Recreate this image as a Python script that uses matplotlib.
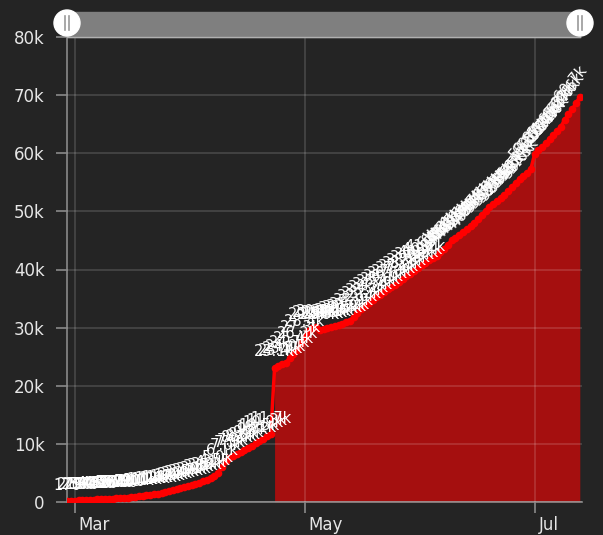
import numpy as np
import matplotlib
matplotlib.use('Agg')
import matplotlib.pyplot as plt
import matplotlib.transforms as mtransforms
from matplotlib.patches import Circle, Rectangle

# daily cumulative values, 2020-02-28 .. 2020-07-13
start = np.datetime64('2020-02-28')
values = [
    170, 210, 250, 290, 330, 370, 400, 430, 460, 490, 520, 550, 580, 610, 640, 680, 720,
    800, 900, 1000, 1080, 1160, 1250, 1350, 1450, 1560, 1700, 1850, 2000, 2180, 2380,
    2550, 2720, 2900, 3100, 3300, 3550, 3800, 4100, 4450, 5000, 6100, 7000, 7500, 7900,
    8300, 8600, 8900, 9300, 9700, 10100, 10500, 10900, 11300, 11700,
    23100, 23400, 23700, 24000, 24700, 25400, 26200, 27300, 28400, 29500, 29900, 30100,
    29600, 29700, 29900, 30100, 30300, 30500, 30700, 30900, 31200, 31900, 32600, 33200,
    33700, 34200, 34700, 35200, 35600, 36100, 36600, 37000, 37400, 37800, 38300, 38800,
    39300, 39800, 40200, 40700, 41200, 41600, 42000, 42400, 43000, 43600, 44300, 45000,
    45500, 46000, 46500, 47000, 47400, 48000, 48700, 49400, 50100, 50700, 51300, 51800,
    52300, 52800, 53500, 54200, 54900, 55500, 56100, 56600, 57300, 59800, 60500, 61100,
    61700, 62400, 63100, 63900, 64600, 65800, 66700, 67600, 68600, 69700,
]
jump_index = 55  # first day after the data revision, filled area starts here
ytick_values = [0, 10000, 20000, 30000, 40000, 50000, 60000, 70000, 80000]
ytick_labels = ['0', '10k', '20k', '30k', '40k', '50k', '60k', '70k', '80k']
xtick_dates = ['2020-03-01', '2020-05-01', '2020-07-01']
xtick_labels = ['Mar', 'May', 'Jul']

dates = start + np.arange(len(values)).astype('timedelta64[D]')
dates = dates.astype('datetime64[ms]').astype(object)
values = np.array(values)

bg = '#242424'
fig = plt.figure(figsize=(6.03, 5.35), dpi=100, facecolor=bg)
ax = fig.add_axes([67 / 603, 1 - 502 / 535, 515 / 603, 465 / 535])
ax.set_facecolor(bg)

ax.fill_between(dates[jump_index:], values[jump_index:], 0, color='#a50f0f', lw=0, zorder=1)
ax.plot(dates, values, color='#ff0000', lw=2.5, marker='o', ms=4.5, zorder=3)

for i, (d, v) in enumerate(zip(dates, values)):
    txt = f'{v / 1000:.1f}k' if v >= 1000 else str(v)
    if i > 95:
        # labels in the steep part are tilted along the line
        ax.annotate(txt, (d, v), xytext=(-2, 6), textcoords='offset points',
                    ha='center', va='bottom', fontsize=10.5, color='white', zorder=4,
                    rotation=50, rotation_mode='anchor')
    else:
        ax.annotate(txt, (d, v), xytext=(0, 6), textcoords='offset points',
                    ha='center', va='bottom', fontsize=10.5, color='white', zorder=4)

ax.set_ylim(0, 80000)
ax.set_xlim(np.datetime64('2020-02-27T22:00').astype(object),
            np.datetime64('2020-07-13T14:00').astype(object))
ax.set_yticks(ytick_values)
ax.set_yticklabels(ytick_labels)
ax.set_xticks([np.datetime64(d).astype('datetime64[ms]').astype(object) for d in xtick_dates])
ax.set_xticklabels(xtick_labels, ha='left')

ax.grid(True, color='white', alpha=0.16, lw=1.2, zorder=2)
ax.set_axisbelow(False)
for s in ['top', 'right']:
    ax.spines[s].set_visible(False)
for s in ['left', 'bottom']:
    ax.spines[s].set_color('#8a8a8a')
    ax.spines[s].set_linewidth(1.2)
ax.tick_params(colors='#8a8a8a', length=8, width=1.2, labelcolor='#e6e6e6', labelsize=12)
ax.tick_params(axis='y', pad=8)
ax.tick_params(axis='x', pad=2)
shift = mtransforms.ScaledTranslation(4 / 100, 0, fig.dpi_scale_trans)
for lbl in ax.get_xticklabels():
    lbl.set_transform(lbl.get_transform() + shift)

# zoom slider drawn in pixel coordinates of the figure
ui = fig.add_axes([0, 0, 1, 1], zorder=10)
ui.set_xlim(0, 603)
ui.set_ylim(535, 0)
ui.axis('off')
ui.add_patch(Rectangle((67, 12), 513, 25, color='#7f7f7f'))
ui.plot([67, 580], [37, 37], color='#b0b0b0', lw=1)
for cx in [67, 580]:
    ui.add_patch(Circle((cx, 23), 13, color='white', zorder=11))
    ui.plot([cx - 2, cx - 2], [16, 30], color='#9a9a9a', lw=1.2, zorder=12)
    ui.plot([cx + 2, cx + 2], [16, 30], color='#9a9a9a', lw=1.2, zorder=12)

fig.savefig('out.png', dpi=100, facecolor=bg)
